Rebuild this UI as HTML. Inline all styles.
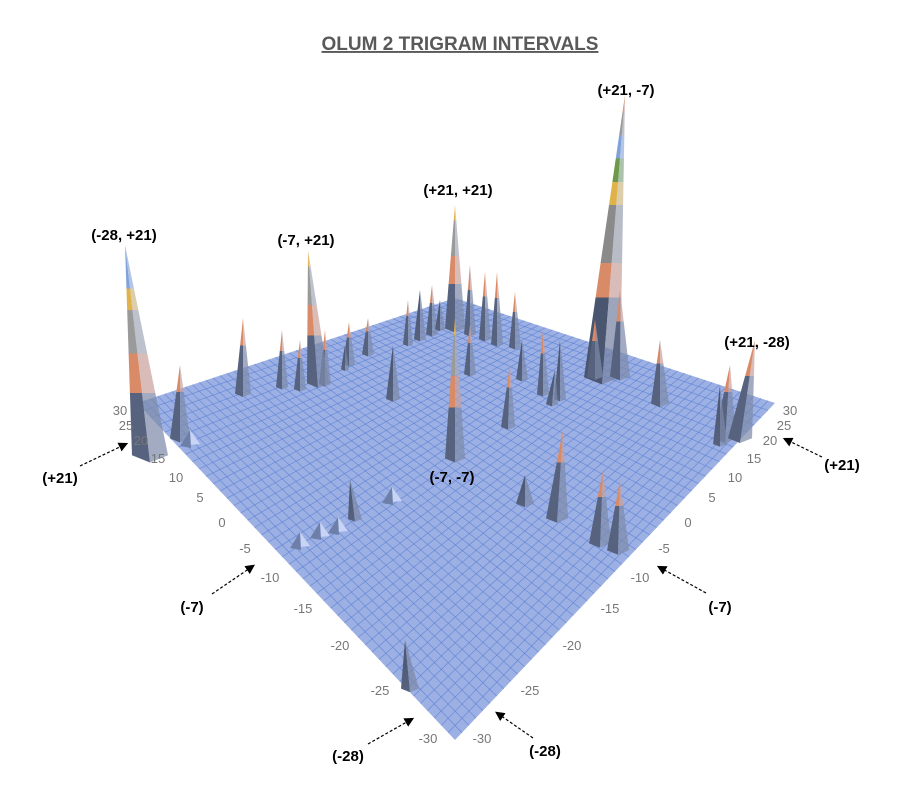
<!DOCTYPE html>
<html><head><meta charset="utf-8"><style>
html,body{margin:0;padding:0;background:#fff;}
svg{display:block;font-family:"Liberation Sans",sans-serif;}
</style></head><body>
<svg id="s" width="900" height="811" viewBox="0 0 900 811" xmlns="http://www.w3.org/2000/svg">
<defs>
<marker id="ah" markerWidth="8" markerHeight="8" refX="6" refY="4" orient="auto"><path d="M0,0 L8,4 L0,8 z" fill="#000"/></marker>
<linearGradient id="gT" x1="0" y1="0" x2="0" y2="1">
<stop offset="0" stop-color="#7fa3d8"/><stop offset="0.2" stop-color="#7fa3d8"/>
<stop offset="0.2" stop-color="#e0b24a"/><stop offset="0.3" stop-color="#e0b24a"/>
<stop offset="0.3" stop-color="#9a9a9a"/><stop offset="0.5" stop-color="#9a9a9a"/>
<stop offset="0.5" stop-color="#d98a66"/><stop offset="0.68" stop-color="#d98a66"/>
<stop offset="0.68" stop-color="#56627e"/><stop offset="1" stop-color="#56627e"/></linearGradient>
<linearGradient id="gM" x1="0" y1="0" x2="0" y2="1">
<stop offset="0" stop-color="#e0b24a"/><stop offset="0.12" stop-color="#e0b24a"/>
<stop offset="0.12" stop-color="#9a9a9a"/><stop offset="0.4" stop-color="#9a9a9a"/>
<stop offset="0.4" stop-color="#d98a66"/><stop offset="0.62" stop-color="#d98a66"/>
<stop offset="0.62" stop-color="#56627e"/><stop offset="1" stop-color="#56627e"/></linearGradient>
<linearGradient id="gS" x1="0" y1="0" x2="0" y2="1">
<stop offset="0" stop-color="#d98a66"/><stop offset="0.35" stop-color="#d98a66"/>
<stop offset="0.35" stop-color="#56627e"/><stop offset="1" stop-color="#56627e"/></linearGradient>
<linearGradient id="gB" x1="0" y1="0" x2="0" y2="1">
<stop offset="0" stop-color="#4a556f"/><stop offset="1" stop-color="#56627e"/></linearGradient>
<linearGradient id="gBig" x1="0" y1="0" x2="0" y2="1">
<stop offset="0" stop-color="#d98a66"/><stop offset="0.06" stop-color="#d98a66"/>
<stop offset="0.06" stop-color="#9a9a9a"/><stop offset="0.14" stop-color="#9a9a9a"/>
<stop offset="0.14" stop-color="#7fa3d8"/><stop offset="0.22" stop-color="#7fa3d8"/>
<stop offset="0.22" stop-color="#6c9a4a"/><stop offset="0.3" stop-color="#6c9a4a"/>
<stop offset="0.3" stop-color="#e0b24a"/><stop offset="0.38" stop-color="#e0b24a"/>
<stop offset="0.38" stop-color="#8a8a8a"/><stop offset="0.58" stop-color="#8a8a8a"/>
<stop offset="0.58" stop-color="#d98a66"/><stop offset="0.7" stop-color="#d98a66"/>
<stop offset="0.7" stop-color="#4a556f"/><stop offset="1" stop-color="#4a556f"/></linearGradient>
</defs>
<text x="460" y="50" text-anchor="middle" font-size="19" font-weight="bold" fill="#595959" text-decoration="underline">OLUM 2 TRIGRAM INTERVALS</text>
<g id="plane"></g>
<g id="spk"></g>
<g font-size="13" fill="#777">
<text x="120" y="415" text-anchor="middle">30</text><text x="126" y="430" text-anchor="middle">25</text>
<text x="141" y="445" text-anchor="middle">20</text><text x="158" y="463" text-anchor="middle">15</text>
<text x="176" y="482" text-anchor="middle">10</text><text x="200" y="502" text-anchor="middle">5</text>
<text x="222" y="527" text-anchor="middle">0</text><text x="245" y="553" text-anchor="middle">-5</text>
<text x="270" y="582" text-anchor="middle">-10</text><text x="303" y="613" text-anchor="middle">-15</text>
<text x="340" y="650" text-anchor="middle">-20</text><text x="380" y="695" text-anchor="middle">-25</text>
<text x="428" y="743" text-anchor="middle">-30</text>
<text x="790" y="415" text-anchor="middle">30</text><text x="784" y="430" text-anchor="middle">25</text>
<text x="770" y="445" text-anchor="middle">20</text><text x="754" y="463" text-anchor="middle">15</text>
<text x="735" y="482" text-anchor="middle">10</text><text x="712" y="502" text-anchor="middle">5</text>
<text x="688" y="527" text-anchor="middle">0</text><text x="664" y="553" text-anchor="middle">-5</text>
<text x="640" y="582" text-anchor="middle">-10</text><text x="610" y="613" text-anchor="middle">-15</text>
<text x="572" y="650" text-anchor="middle">-20</text><text x="530" y="695" text-anchor="middle">-25</text>
<text x="482" y="743" text-anchor="middle">-30</text>
</g>
<g stroke="#000" stroke-width="1.2" stroke-dasharray="3,2" fill="none" marker-end="url(#ah)">
<line x1="80" y1="466" x2="126" y2="444"/>
<line x1="212" y1="594" x2="253" y2="566"/>
<line x1="368" y1="744" x2="412" y2="719"/>
<line x1="822" y1="457" x2="785" y2="439"/>
<line x1="706" y1="593" x2="659" y2="567"/>
<line x1="533" y1="738" x2="497" y2="713"/>
</g>
<g font-size="15" font-weight="bold" fill="#000" text-anchor="middle">
<text x="60" y="483">(+21)</text><text x="192" y="612">(-7)</text><text x="348" y="761">(-28)</text>
<text x="842" y="470">(+21)</text><text x="720" y="612">(-7)</text><text x="545" y="756">(-28)</text>
<text x="124" y="240">(-28, +21)</text><text x="306" y="245">(-7, +21)</text>
<text x="458" y="195">(+21, +21)</text><text x="626" y="95">(+21, -7)</text>
<text x="757" y="347">(+21, -28)</text><text x="452" y="482">(-7, -7)</text>
</g>
</svg>
<script>
var NS="http://www.w3.org/2000/svg";
var L=[137,403],T=[455,298],R=[775,403],B=[455,740];
function P(a,b){return [B[0]+a*(L[0]-B[0])+b*(R[0]-B[0])+a*b*(T[0]-L[0]-R[0]+B[0]),
B[1]+a*(L[1]-B[1])+b*(R[1]-B[1])+a*b*(T[1]-L[1]-R[1]+B[1])];}
var g=document.getElementById("plane");
function el(t,at,p){var e=document.createElementNS(NS,t);for(var k in at)e.setAttribute(k,at[k]);p.appendChild(e);return e;}
el("polygon",{points:[L,T,R,B].map(function(p){return p.join(",")}).join(" "),fill:"#9db0e4"},g);
var N=46;
for(var i=1;i<N;i++){var t=i/N;
var p1=P(t,0),p2=P(t,1);el("line",{x1:p1[0],y1:p1[1],x2:p2[0],y2:p2[1],stroke:"#5a80d4","stroke-width":0.8,opacity:0.7},g);
p1=P(0,t);p2=P(1,t);el("line",{x1:p1[0],y1:p1[1],x2:p2[0],y2:p2[1],stroke:"#5a80d4","stroke-width":0.8,opacity:0.7},g);}
var s=document.getElementById("spk");
var sp=[
[420,290,420,340,6,"gB"],[432,285,432,335,6,"gS"],[440,300,440,330,5,"gB"],[470,265,470,335,6,"gS"],[485,272,485,340,6,"gS"],[497,272,497,345,6,"gS"],[515,292,515,348,6,"gS"],
[408,300,408,345,5,"gS"],[349,322,349,365,6,"gS"],[368,318,368,355,6,"gS"],[345,345,345,370,4,"gB"],
[243,318,243,395,8,"gS"],[282,330,282,388,6,"gS"],[300,340,300,390,6,"gS"],[325,330,325,385,6,"gS"],
[125,245,150,458,18,"gT"],[180,365,180,440,10,"gS"],
[308,250,318,385,11,"gM"],
[455,205,455,330,10,"gM"],
[625,95,602,380,18,"gBig"],[620,290,620,378,10,"gS"],[595,320,595,378,8,"gS"],
[560,340,560,400,6,"gB"],[543,330,543,395,6,"gS"],[522,340,522,380,6,"gB"],
[660,340,660,405,9,"gS"],[510,365,508,428,7,"gS"],[470,325,470,375,6,"gS"],
[730,365,725,440,11,"gS"],[755,340,740,440,12,"gS"],[720,385,720,445,7,"gB"],
[455,318,455,460,10,"gM"],
[393,345,393,400,7,"gB"],[555,370,552,405,6,"gB"],
[563,430,557,520,11,"gS"],[525,475,525,505,9,"gB"],[603,470,600,545,11,"gS"],[620,480,618,552,11,"gS"],
[350,480,355,520,7,"gB"],[405,640,410,690,9,"gB"]
];
sp.forEach(function(q){
var ax=q[0],ay=q[1],bx=q[2],by=q[3],w=q[4];
el("polygon",{points:ax+","+ay+" "+(bx-w)+","+(by-w*0.15)+" "+bx+","+(by+w*0.25),fill:"url(#"+q[5]+")"},s);
el("polygon",{points:ax+","+ay+" "+bx+","+(by+w*0.25)+" "+(bx+w)+","+(by-w*0.15),fill:"url(#"+q[5]+")",opacity:0.6},s);
el("polygon",{points:ax+","+ay+" "+bx+","+(by+w*0.25)+" "+(bx+w)+","+(by-w*0.15),fill:"#b7c4e8",opacity:0.3},s);
});
[[300,540],[320,530],[338,525],[392,495],[190,438]].forEach(function(c){
el("polygon",{points:(c[0]-10)+","+(c[1]+8)+" "+c[0]+","+(c[1]-8)+" "+(c[0]+10)+","+(c[1]+6),fill:"#c7d4f6"},s);
el("polygon",{points:(c[0]-10)+","+(c[1]+8)+" "+c[0]+","+(c[1]-8)+" "+(c[0]+1)+","+(c[1]+10),fill:"#6d7ea8"},s);
});
</script>
</body></html>
